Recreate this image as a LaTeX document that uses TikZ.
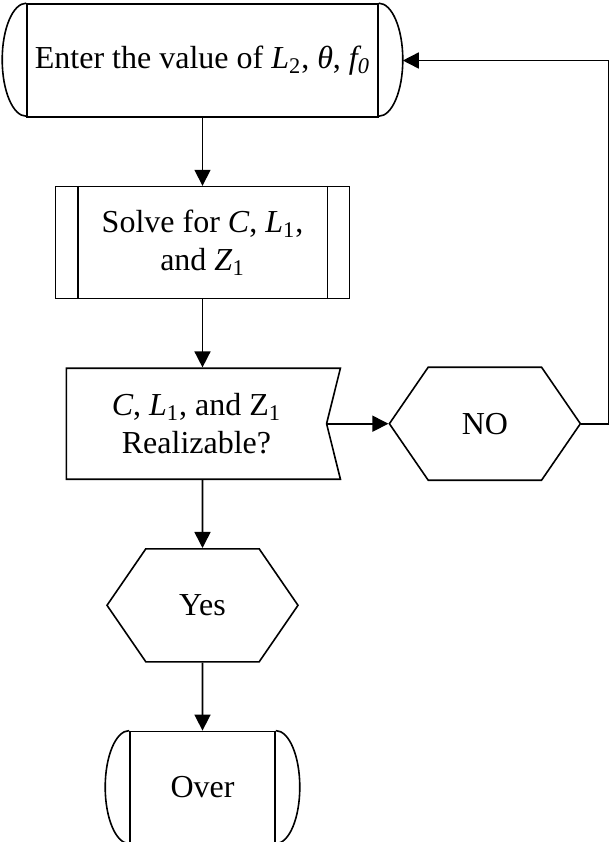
\documentclass[tikz,border=0pt]{standalone}
\usepackage{fontspec}
\setmainfont{Liberation Serif}
\usetikzlibrary{positioning,shapes.symbols,arrows.meta}

\begin{document}
\begin{tikzpicture}
  [node distance = 34pt, line width = 0.8pt,
   every node/.style={font=\fontsize{16}{19}\selectfont, align=center, inner sep=0pt},
   terminal/.style={draw, minimum height=56.5pt,
     append after command={\pgfextra{
       \draw (\tikzlastnode.north west) arc[start angle=90, end angle=270, x radius=12pt, y radius=28.25pt];
       \draw (\tikzlastnode.north east) arc[start angle=90, end angle=-90, x radius=12pt, y radius=28.25pt];}}},
   process/.style={draw, minimum width=147pt, minimum height=56pt,
     append after command={\pgfextra{
       \draw ([xshift=11.5pt]\tikzlastnode.north west) -- ([xshift=11.5pt]\tikzlastnode.south west);
       \draw ([xshift=-11.5pt]\tikzlastnode.north east) -- ([xshift=-11.5pt]\tikzlastnode.south east);}}},
   test/.style={draw, signal, signal to=nowhere, signal from=east, signal pointer angle=152,
     minimum width=137pt, minimum height=55.5pt},
   hexa/.style={draw, signal, signal to=east and west, signal pointer angle=111,
     minimum width=95.5pt, minimum height=56.5pt},
   flow/.style={-{Triangle[length=8pt, width=8pt]}}]
  \useasboundingbox (0,0) rectangle (305pt,-421pt);

  \node [terminal, minimum width=175.5pt] (start) at (101.25pt,-30.25pt)
    {Enter the value of \textit{L}\textsubscript{2}, \textit{θ}, \textit{f\textsubscript{0}}};
  \node [process, below=of start] (solve)
    {Solve for \textit{C}, \textit{L}\textsubscript{1},\\and \textit{Z}\textsubscript{1}};
  \node [test, below=of solve, xshift=-3pt] (check)
    {\textit{C}, \textit{L}\textsubscript{1}, and Z\textsubscript{1}\\Realizable?};
  \node [hexa, right=30.5pt of check] (no) {NO};
  \node [hexa, below=of check, xshift=3pt] (yes) {Yes};
  \node [terminal, minimum width=72.5pt, minimum height=56pt, below=of yes] (over) {Over};

  % connectors
  \draw [flow] (start) -- (solve);
  \draw [flow] (solve) -- (solve |- check.north);
  \draw [flow] (yes |- check.south) -- (yes);
  \draw [flow] (yes) -- (over);
  \draw [flow] (check.east) -- (no.west);
  \draw [flow] (no.east) -- ++(13.5pt,0) |- ([xshift=12pt]start.east);
\end{tikzpicture}
\end{document}
